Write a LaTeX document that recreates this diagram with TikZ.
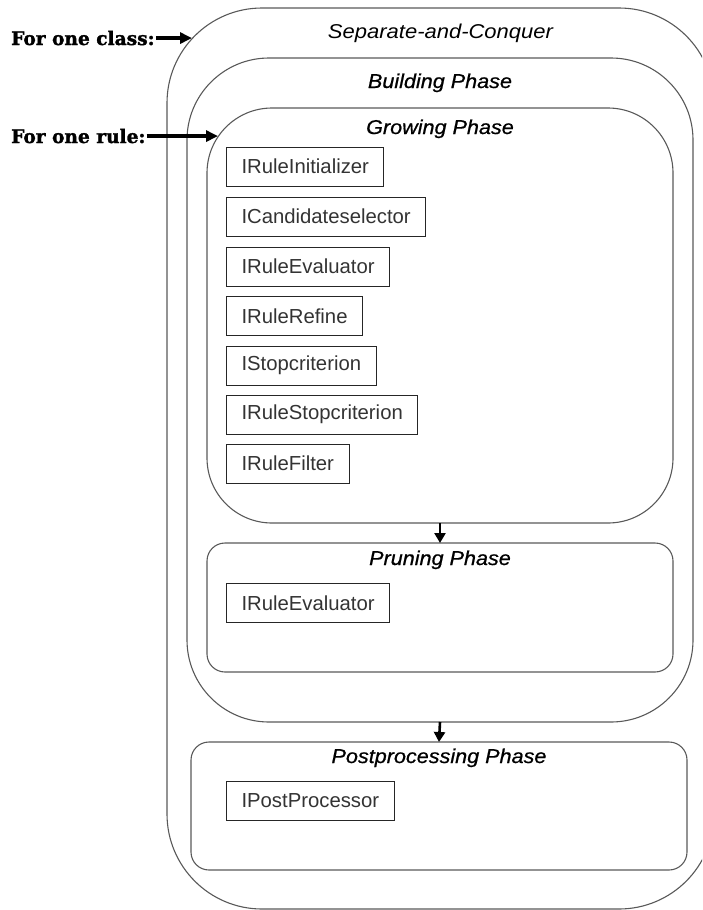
\documentclass[tikz,border=0pt]{standalone}
\usepackage{fontspec}
\setmainfont{Liberation Sans}
\newfontfamily\phasefont[FakeStretch=1.1]{Liberation Sans}
\newfontfamily\phaseboldfont[FakeStretch=1.08,FakeBold=0.7]{Liberation Sans}
\newfontfamily\notefont[FakeBold=1.6]{DejaVu Serif}
\usetikzlibrary{arrows.meta}

\begin{document}
\begin{tikzpicture}[x=1pt,y=-1pt,
  container/.style={draw=black!65, line width=1.1pt, inner sep=0pt, outer sep=0pt},
  phasetitle/.style={font=\phasefont\itshape\fontsize{20}{24}\selectfont, inner sep=0pt, anchor=base},
  subtitle/.style={phasetitle, font=\phaseboldfont\itshape\fontsize{20}{24}\selectfont},
  iface/.style={draw=black!85, line width=1pt, anchor=west, minimum height=39pt,
    inner xsep=15pt, inner ysep=0pt, outer sep=0pt,
    font=\fontsize{20.3}{24}\selectfont, text=black!80},
  note/.style={font=\notefont\bfseries\fontsize{18.6}{22}\selectfont, anchor=base west, inner sep=0pt},
  flow/.style={line width=2.6pt, -{Triangle[length=10pt,width=11pt]}},
  pointer/.style={line width=3.2pt, -{Triangle[length=12pt,width=11pt]}}
]
\useasboundingbox (0,0) rectangle (702,910);
\clip (0,0) rectangle (702,910);

% nested phase containers
\node[container, rounded corners=95pt, minimum width=547pt, minimum height=901pt] (sac) at (440.5,458.5) {};
\node[container, rounded corners=82pt, minimum width=506pt, minimum height=664pt] (build) at (440,390) {};
\node[container, rounded corners=65pt, minimum width=466pt, minimum height=415pt] (grow) at (440,315.5) {};
\node[container, rounded corners=18pt, minimum width=466pt, minimum height=129pt] (prune) at (440,607.5) {};
\node[container, rounded corners=18pt, minimum width=496pt, minimum height=128pt] (post) at (439,806) {};

% phase titles
\node[phasetitle] (sactitle)   at ([yshift=-30pt]sac.north)   {Separate-and-Conquer};
\node[subtitle]   (buildtitle) at ([yshift=-30pt]build.north) {Building Phase};
\node[subtitle]   (growtitle)  at ([yshift=-26pt]grow.north)  {Growing Phase};
\node[subtitle]   (prunetitle) at ([yshift=-22pt]prune.north) {Pruning Phase};
\node[subtitle]   (posttitle)  at ([yshift=-21pt]post.north)  {Postprocessing Phase};

% interfaces of the growing phase
\node[iface] (g1) at (226.5,166.5) {IRuleInitializer};
\node[iface] (g2) at (226.5,216.5) {ICandidateselector};
\node[iface] (g3) at (226.5,266.5) {IRuleEvaluator};
\node[iface] (g4) at (226.5,316)   {IRuleRefine};
\node[iface] (g5) at (226.5,365.5) {IStopcriterion};
\node[iface] (g6) at (226.5,414.5) {IRuleStopcriterion};
\node[iface] (g7) at (226.5,463.5) {IRuleFilter};

% interfaces of pruning and postprocessing
\node[iface] (p1) at (226.5,603) {IRuleEvaluator};
\node[iface] (q1) at (226.5,801) {IPostProcessor};

% flow between phases
\draw[flow] (grow.south) -- (prune.north);
\draw[flow] (build.south) -- (post.north);

% scope annotations
\node[note] (classnote) at (11,45)  {For one class:};
\node[note] (rulenote)  at (11,143) {For one rule:};
\coordinate (classtip) at (192,39);
\coordinate (ruletip)  at (218,137);
\draw[pointer] ([xshift=1pt]classnote.east) -- (classnote.east -| classtip);
\draw[pointer] ([xshift=1pt]rulenote.east) -- (rulenote.east -| ruletip);
\end{tikzpicture}
\end{document}
